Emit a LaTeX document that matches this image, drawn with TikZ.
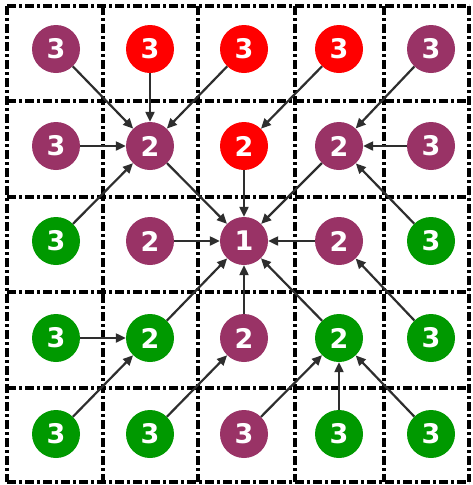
\documentclass[tikz,border=0pt]{standalone}
\usepackage{fontspec}
\setmainfont{DejaVu Sans}
\usetikzlibrary{arrows.meta}
\definecolor{cpur}{HTML}{993366}
\definecolor{cred}{HTML}{FF0000}
\definecolor{cgrn}{HTML}{009900}
\definecolor{carr}{HTML}{2E2E2E}
\begin{document}
\begin{tikzpicture}[x=1pt,y=-1pt,
  gridline/.style={line width=3.4pt,black,dash pattern=on 9pt off 3pt on 3pt off 3pt},
  dot/.style={circle,minimum size=48pt,inner sep=0pt,text=white,font=\bfseries\fontsize{27}{27}\selectfont},
  pur/.style={dot,fill=cpur},
  rd/.style={dot,fill=cred},
  gr/.style={dot,fill=cgrn},
  arr/.style={carr,line width=2.2pt,-{Triangle[length=10pt,width=9pt]}}]
\useasboundingbox (0,0) rectangle (473,485);
\fill[white] (0,0) rectangle (473,485);
% grid
\foreach \x in {7,103,198,295,384,469} \draw[gridline] (\x,6) -- (\x,482);
\foreach \y in {6,101,197,292,388,482} \draw[gridline] (7,\y) -- (469,\y);
% nodes
\def\cA{56}\def\cB{150}\def\cC{244}\def\cD{339}\def\cE{431}
\def\rA{49}\def\rB{146}\def\rC{241}\def\rD{338}\def\rE{434}
\node[pur] (n11) at (\cA,\rA) {3};
\node[rd]  (n21) at (\cB,\rA) {3};
\node[rd]  (n31) at (\cC,\rA) {3};
\node[rd]  (n41) at (\cD,\rA) {3};
\node[pur] (n51) at (\cE,\rA) {3};
\node[pur] (n12) at (\cA,\rB) {3};
\node[pur] (n22) at (\cB,\rB) {2};
\node[rd]  (n32) at (\cC,\rB) {2};
\node[pur] (n42) at (\cD,\rB) {2};
\node[pur] (n52) at (\cE,\rB) {3};
\node[gr]  (n13) at (\cA,\rC) {3};
\node[pur] (n23) at (\cB,\rC) {2};
\node[pur] (n33) at (\cC,\rC) {1};
\node[pur] (n43) at (\cD,\rC) {2};
\node[gr]  (n53) at (\cE,\rC) {3};
\node[gr]  (n14) at (\cA,\rD) {3};
\node[gr]  (n24) at (\cB,\rD) {2};
\node[pur] (n34) at (\cC,\rD) {2};
\node[gr]  (n44) at (\cD,\rD) {2};
\node[gr]  (n54) at (\cE,\rD) {3};
\node[gr]  (n15) at (\cA,\rE) {3};
\node[gr]  (n25) at (\cB,\rE) {3};
\node[pur] (n35) at (\cC,\rE) {3};
\node[gr]  (n45) at (\cD,\rE) {3};
\node[gr]  (n55) at (\cE,\rE) {3};
% arrows
\draw[arr] (n11) -- (n22);
\draw[arr] (n21) -- (n22);
\draw[arr] (n31) -- (n22);
\draw[arr] (n12) -- (n22);
\draw[arr] (n13) -- (n22);
\draw[arr] (n41) -- (n32);
\draw[arr] (n51) -- (n42);
\draw[arr] (n52) -- (n42);
\draw[arr] (n53) -- (n42);
\draw[arr] (n22) -- (n33);
\draw[arr] (n32) -- (n33);
\draw[arr] (n42) -- (n33);
\draw[arr] (n23) -- (n33);
\draw[arr] (n43) -- (n33);
\draw[arr] (n24) -- (n33);
\draw[arr] (n34) -- (n33);
\draw[arr] (n44) -- (n33);
\draw[arr] (n14) -- (n24);
\draw[arr] (n15) -- (n24);
\draw[arr] (n54) -- (n43);
\draw[arr] (n25) -- (n34);
\draw[arr] (n35) -- (n44);
\draw[arr] (n45) -- (n44);
\draw[arr] (n55) -- (n44);
\end{tikzpicture}
\end{document}
